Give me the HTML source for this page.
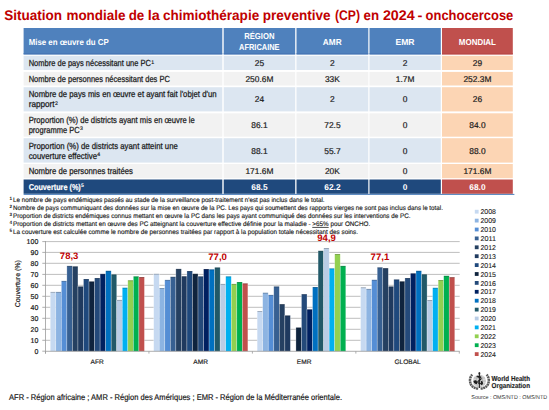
<!DOCTYPE html>
<html><head><meta charset="utf-8"><style>
html,body{margin:0;padding:0;background:#fff;width:549px;height:410px;overflow:hidden}
svg{display:block;font-family:"Liberation Sans", sans-serif;text-rendering:geometricPrecision}
</style></head><body>
<svg width="549" height="410" viewBox="0 0 549 410">
<rect width="549" height="410" fill="#fff"/>
<text x="4.3" y="19.9" font-size="14" font-weight="bold" fill="#C00000" textLength="57.8" lengthAdjust="spacingAndGlyphs">Situation</text>
<text x="66.4" y="19.9" font-size="14" font-weight="bold" fill="#C00000" textLength="59.2" lengthAdjust="spacingAndGlyphs">mondiale</text>
<text x="128.7" y="19.9" font-size="14" font-weight="bold" fill="#C00000" textLength="15.6" lengthAdjust="spacingAndGlyphs">de</text>
<text x="147.7" y="19.9" font-size="14" font-weight="bold" fill="#C00000" textLength="12.0" lengthAdjust="spacingAndGlyphs">la</text>
<text x="162.9" y="19.9" font-size="14" font-weight="bold" fill="#C00000" textLength="96.3" lengthAdjust="spacingAndGlyphs">chimiothérapie</text>
<text x="262.8" y="19.9" font-size="14" font-weight="bold" fill="#C00000" textLength="67.7" lengthAdjust="spacingAndGlyphs">preventive</text>
<text x="335.0" y="19.9" font-size="14" font-weight="bold" fill="#C00000" textLength="25.0" lengthAdjust="spacingAndGlyphs">(CP)</text>
<text x="363.5" y="19.9" font-size="14" font-weight="bold" fill="#C00000" textLength="15.5" lengthAdjust="spacingAndGlyphs">en</text>
<text x="382.9" y="19.9" font-size="14" font-weight="bold" fill="#C00000" textLength="31.8" lengthAdjust="spacingAndGlyphs">2024</text>
<text x="417.5" y="19.9" font-size="14" font-weight="bold" fill="#C00000" textLength="4.9" lengthAdjust="spacingAndGlyphs">-</text>
<text x="425.6" y="19.9" font-size="14" font-weight="bold" fill="#C00000" textLength="87.7" lengthAdjust="spacingAndGlyphs">onchocercose</text>
<rect x="23.6" y="28.0" width="198.70" height="26.40" fill="#4F81BD"/>
<rect x="223.7" y="28.0" width="71.50" height="26.40" fill="#4F81BD"/>
<rect x="296.5" y="28.0" width="71.80" height="26.40" fill="#4F81BD"/>
<rect x="369.5" y="28.0" width="71.30" height="26.40" fill="#4F81BD"/>
<rect x="442.0" y="28.0" width="70.80" height="26.40" fill="#C0504D"/>
<rect x="23.6" y="55.8" width="198.70" height="14.20" fill="#DCE6F1"/>
<rect x="223.7" y="55.8" width="71.50" height="14.20" fill="#DCE6F1"/>
<rect x="296.5" y="55.8" width="71.80" height="14.20" fill="#DCE6F1"/>
<rect x="369.5" y="55.8" width="71.30" height="14.20" fill="#DCE6F1"/>
<rect x="442.0" y="55.8" width="70.80" height="14.20" fill="#FCD5B4"/>
<rect x="23.6" y="71.9" width="198.70" height="13.60" fill="#F2F2F2"/>
<rect x="223.7" y="71.9" width="71.50" height="13.60" fill="#F2F2F2"/>
<rect x="296.5" y="71.9" width="71.80" height="13.60" fill="#F2F2F2"/>
<rect x="369.5" y="71.9" width="71.30" height="13.60" fill="#F2F2F2"/>
<rect x="442.0" y="71.9" width="70.80" height="13.60" fill="#FCD5B4"/>
<rect x="23.6" y="87.2" width="198.70" height="24.20" fill="#DCE6F1"/>
<rect x="223.7" y="87.2" width="71.50" height="24.20" fill="#DCE6F1"/>
<rect x="296.5" y="87.2" width="71.80" height="24.20" fill="#DCE6F1"/>
<rect x="369.5" y="87.2" width="71.30" height="24.20" fill="#DCE6F1"/>
<rect x="442.0" y="87.2" width="70.80" height="24.20" fill="#FCD5B4"/>
<rect x="23.6" y="113.3" width="198.70" height="23.40" fill="#F2F2F2"/>
<rect x="223.7" y="113.3" width="71.50" height="23.40" fill="#F2F2F2"/>
<rect x="296.5" y="113.3" width="71.80" height="23.40" fill="#F2F2F2"/>
<rect x="369.5" y="113.3" width="71.30" height="23.40" fill="#F2F2F2"/>
<rect x="442.0" y="113.3" width="70.80" height="23.40" fill="#FCD5B4"/>
<rect x="23.6" y="138.2" width="198.70" height="24.40" fill="#DCE6F1"/>
<rect x="223.7" y="138.2" width="71.50" height="24.40" fill="#DCE6F1"/>
<rect x="296.5" y="138.2" width="71.80" height="24.40" fill="#DCE6F1"/>
<rect x="369.5" y="138.2" width="71.30" height="24.40" fill="#DCE6F1"/>
<rect x="442.0" y="138.2" width="70.80" height="24.40" fill="#FCD5B4"/>
<rect x="23.6" y="164.0" width="198.70" height="14.20" fill="#F2F2F2"/>
<rect x="223.7" y="164.0" width="71.50" height="14.20" fill="#F2F2F2"/>
<rect x="296.5" y="164.0" width="71.80" height="14.20" fill="#F2F2F2"/>
<rect x="369.5" y="164.0" width="71.30" height="14.20" fill="#F2F2F2"/>
<rect x="442.0" y="164.0" width="70.80" height="14.20" fill="#FCD5B4"/>
<rect x="23.6" y="179.5" width="198.70" height="14.30" fill="#1F497D"/>
<rect x="223.7" y="179.5" width="71.50" height="14.30" fill="#1F497D"/>
<rect x="296.5" y="179.5" width="71.80" height="14.30" fill="#1F497D"/>
<rect x="369.5" y="179.5" width="71.30" height="14.30" fill="#1F497D"/>
<rect x="442.0" y="179.5" width="70.80" height="14.30" fill="#C0504D"/>
<rect x="23.6" y="193.9" width="490.8" height="1" fill="#4F81BD"/>
<rect x="23.6" y="53.2" width="198.70" height="1.2" fill="#4675B5"/>
<rect x="223.7" y="53.2" width="71.50" height="1.2" fill="#4675B5"/>
<rect x="296.5" y="53.2" width="71.80" height="1.2" fill="#4675B5"/>
<rect x="369.5" y="53.2" width="71.30" height="1.2" fill="#4675B5"/>
<rect x="442.0" y="53.2" width="70.80" height="1.2" fill="#B94946"/>
<text x="28.7" y="44.6" font-size="8.6" font-weight="bold" fill="#fff" textLength="80" lengthAdjust="spacingAndGlyphs">Mise en œuvre du CP</text>
<text x="259.3" y="39.1" font-size="8.6" font-weight="bold" fill="#fff" text-anchor="middle" textLength="30.3" lengthAdjust="spacingAndGlyphs">RÉGION</text>
<text x="259.3" y="49.5" font-size="8.6" font-weight="bold" fill="#fff" text-anchor="middle" textLength="40.5" lengthAdjust="spacingAndGlyphs">AFRICAINE</text>
<text x="332.2" y="44.6" font-size="8.6" font-weight="bold" fill="#fff" text-anchor="middle" textLength="18.8" lengthAdjust="spacingAndGlyphs">AMR</text>
<text x="405.0" y="44.6" font-size="8.6" font-weight="bold" fill="#fff" text-anchor="middle">EMR</text>
<text x="477.4" y="44.6" font-size="8.6" font-weight="bold" fill="#fff" text-anchor="middle" textLength="37.2" lengthAdjust="spacingAndGlyphs">MONDIAL</text>
<text x="28.7" y="66.1" font-size="8.8" fill="#1a1a1a" textLength="122.3" lengthAdjust="spacingAndGlyphs" stroke="#1a1a1a" stroke-width="0.25">Nombre de pays nécessitant une PC</text>
<text x="151.3" y="63.7" font-size="5.2" fill="#1a1a1a" stroke="#1a1a1a" stroke-width="0.15">1</text>
<text x="28.7" y="81.8" font-size="8.8" fill="#1a1a1a" textLength="141.2" lengthAdjust="spacingAndGlyphs" stroke="#1a1a1a" stroke-width="0.25">Nombre de personnes nécessitant des PC</text>
<text x="28.7" y="97.3" font-size="8.8" fill="#1a1a1a" textLength="187.9" lengthAdjust="spacingAndGlyphs" stroke="#1a1a1a" stroke-width="0.25">Nombre de pays mis en œuvre et ayant fait l'objet d'un</text>
<text x="28.7" y="106.9" font-size="8.8" fill="#1a1a1a" textLength="25.9" lengthAdjust="spacingAndGlyphs" stroke="#1a1a1a" stroke-width="0.25">rapport</text>
<text x="54.9" y="104.5" font-size="5.2" fill="#1a1a1a" stroke="#1a1a1a" stroke-width="0.15">2</text>
<text x="28.7" y="122.9" font-size="8.8" fill="#1a1a1a" textLength="166.1" lengthAdjust="spacingAndGlyphs" stroke="#1a1a1a" stroke-width="0.25">Proportion (%) de districts ayant mis en œuvre le</text>
<text x="28.7" y="132.6" font-size="8.8" fill="#1a1a1a" textLength="50.9" lengthAdjust="spacingAndGlyphs" stroke="#1a1a1a" stroke-width="0.25">programme PC</text>
<text x="79.9" y="130.2" font-size="5.2" fill="#1a1a1a" stroke="#1a1a1a" stroke-width="0.15">3</text>
<text x="28.7" y="148.7" font-size="8.8" fill="#1a1a1a" textLength="149.1" lengthAdjust="spacingAndGlyphs" stroke="#1a1a1a" stroke-width="0.25">Proportion (%) de districts ayant atteint une</text>
<text x="28.7" y="158.5" font-size="8.8" fill="#1a1a1a" textLength="68.3" lengthAdjust="spacingAndGlyphs" stroke="#1a1a1a" stroke-width="0.25">couverture effective</text>
<text x="97.3" y="156.1" font-size="5.2" fill="#1a1a1a" stroke="#1a1a1a" stroke-width="0.15">4</text>
<text x="28.7" y="174.2" font-size="8.8" fill="#1a1a1a" textLength="104.2" lengthAdjust="spacingAndGlyphs" stroke="#1a1a1a" stroke-width="0.25">Nombre de personnes traitées</text>
<text x="28.7" y="189.9" font-size="8.6" font-weight="bold" fill="#fff" textLength="52.1" lengthAdjust="spacingAndGlyphs" stroke="#fff" stroke-width="0.2">Couverture (%)</text>
<text x="80.9" y="187.0" font-size="5.2" font-weight="bold" fill="#fff">5</text>
<text x="259.4" y="66.3" font-size="8.4" fill="#1a1a1a" text-anchor="middle" stroke="#1a1a1a" stroke-width="0.2">25</text>
<text x="332.4" y="66.3" font-size="8.4" fill="#1a1a1a" text-anchor="middle" stroke="#1a1a1a" stroke-width="0.2">2</text>
<text x="405.1" y="66.3" font-size="8.4" fill="#1a1a1a" text-anchor="middle" stroke="#1a1a1a" stroke-width="0.2">2</text>
<text x="477.4" y="66.3" font-size="8.4" fill="#1a1a1a" text-anchor="middle" stroke="#1a1a1a" stroke-width="0.2">29</text>
<text x="259.4" y="81.8" font-size="8.4" fill="#1a1a1a" text-anchor="middle" stroke="#1a1a1a" stroke-width="0.2">250.6M</text>
<text x="332.4" y="81.8" font-size="8.4" fill="#1a1a1a" text-anchor="middle" stroke="#1a1a1a" stroke-width="0.2">33K</text>
<text x="405.1" y="81.8" font-size="8.4" fill="#1a1a1a" text-anchor="middle" stroke="#1a1a1a" stroke-width="0.2">1.7M</text>
<text x="477.4" y="81.8" font-size="8.4" fill="#1a1a1a" text-anchor="middle" stroke="#1a1a1a" stroke-width="0.2">252.3M</text>
<text x="259.4" y="102.4" font-size="8.4" fill="#1a1a1a" text-anchor="middle" stroke="#1a1a1a" stroke-width="0.2">24</text>
<text x="332.4" y="102.4" font-size="8.4" fill="#1a1a1a" text-anchor="middle" stroke="#1a1a1a" stroke-width="0.2">2</text>
<text x="405.1" y="102.4" font-size="8.4" fill="#1a1a1a" text-anchor="middle" stroke="#1a1a1a" stroke-width="0.2">0</text>
<text x="477.4" y="102.4" font-size="8.4" fill="#1a1a1a" text-anchor="middle" stroke="#1a1a1a" stroke-width="0.2">26</text>
<text x="259.4" y="128.0" font-size="8.4" fill="#1a1a1a" text-anchor="middle" stroke="#1a1a1a" stroke-width="0.2">86.1</text>
<text x="332.4" y="128.0" font-size="8.4" fill="#1a1a1a" text-anchor="middle" stroke="#1a1a1a" stroke-width="0.2">72.5</text>
<text x="405.1" y="128.0" font-size="8.4" fill="#1a1a1a" text-anchor="middle" stroke="#1a1a1a" stroke-width="0.2">0</text>
<text x="477.4" y="128.0" font-size="8.4" fill="#1a1a1a" text-anchor="middle" stroke="#1a1a1a" stroke-width="0.2">84.0</text>
<text x="259.4" y="153.9" font-size="8.4" fill="#1a1a1a" text-anchor="middle" stroke="#1a1a1a" stroke-width="0.2">88.1</text>
<text x="332.4" y="153.9" font-size="8.4" fill="#1a1a1a" text-anchor="middle" stroke="#1a1a1a" stroke-width="0.2">55.7</text>
<text x="405.1" y="153.9" font-size="8.4" fill="#1a1a1a" text-anchor="middle" stroke="#1a1a1a" stroke-width="0.2">0</text>
<text x="477.4" y="153.9" font-size="8.4" fill="#1a1a1a" text-anchor="middle" stroke="#1a1a1a" stroke-width="0.2">88.0</text>
<text x="259.4" y="174.4" font-size="8.4" fill="#1a1a1a" text-anchor="middle" stroke="#1a1a1a" stroke-width="0.2">171.6M</text>
<text x="332.4" y="174.4" font-size="8.4" fill="#1a1a1a" text-anchor="middle" stroke="#1a1a1a" stroke-width="0.2">20K</text>
<text x="405.1" y="174.4" font-size="8.4" fill="#1a1a1a" text-anchor="middle" stroke="#1a1a1a" stroke-width="0.2">0</text>
<text x="477.4" y="174.4" font-size="8.4" fill="#1a1a1a" text-anchor="middle" stroke="#1a1a1a" stroke-width="0.2">171.6M</text>
<text x="259.4" y="190.0" font-size="8.4" font-weight="bold" fill="#fff" text-anchor="middle">68.5</text>
<text x="332.4" y="190.0" font-size="8.4" font-weight="bold" fill="#fff" text-anchor="middle">62.2</text>
<text x="405.1" y="190.0" font-size="8.4" font-weight="bold" fill="#fff" text-anchor="middle">0</text>
<text x="477.4" y="190.0" font-size="8.4" font-weight="bold" fill="#fff" text-anchor="middle">68.0</text>
<text x="9.4" y="199.7" font-size="4.6" font-weight="bold" fill="#222">1</text>
<text x="13.0" y="201.9" font-size="6.6" fill="#1a1a1a" textLength="311.6" lengthAdjust="spacingAndGlyphs" stroke="#1a1a1a" stroke-width="0.15">Le nombre de pays endémiques passés au stade de la surveillance post-traitement n'est pas inclus dans le total.</text>
<text x="9.4" y="207.7" font-size="4.6" font-weight="bold" fill="#222">2</text>
<text x="13.0" y="209.9" font-size="6.6" fill="#1a1a1a" textLength="429.9" lengthAdjust="spacingAndGlyphs" stroke="#1a1a1a" stroke-width="0.15">Nombre de pays communiquant des données sur la mise en œuvre de la PC. Les pays qui soumettent des rapports vierges ne sont pas inclus dans le total.</text>
<text x="9.4" y="215.8" font-size="4.6" font-weight="bold" fill="#222">3</text>
<text x="13.0" y="218.0" font-size="6.6" fill="#1a1a1a" textLength="397.4" lengthAdjust="spacingAndGlyphs" stroke="#1a1a1a" stroke-width="0.15">Proportion de districts endémiques connus mettant en œuvre la PC dans les pays ayant communiqué des données sur les interventions de PC.</text>
<text x="9.4" y="223.8" font-size="4.6" font-weight="bold" fill="#222">4</text>
<text x="13.0" y="226.0" font-size="6.6" fill="#1a1a1a" textLength="357.2" lengthAdjust="spacingAndGlyphs" stroke="#1a1a1a" stroke-width="0.15">Proportion de districts mettant en œuvre des PC atteignant la couverture effective définie pour la maladie - <tspan text-decoration="underline">&gt;65%</tspan> pour ONCHO.</text>
<text x="9.4" y="232.0" font-size="4.6" font-weight="bold" fill="#222">5</text>
<text x="13.0" y="234.2" font-size="6.6" fill="#1a1a1a" textLength="345.0" lengthAdjust="spacingAndGlyphs" stroke="#1a1a1a" stroke-width="0.15">La couverture est calculée comme le nombre de personnes traitées par rapport à la population totale nécessitant des soins.</text>
<line x1="45.5" y1="340.30" x2="459.7" y2="340.30" stroke="#BFBFBF" stroke-width="1"/>
<line x1="45.5" y1="329.30" x2="459.7" y2="329.30" stroke="#BFBFBF" stroke-width="1"/>
<line x1="45.5" y1="318.30" x2="459.7" y2="318.30" stroke="#BFBFBF" stroke-width="1"/>
<line x1="45.5" y1="307.30" x2="459.7" y2="307.30" stroke="#BFBFBF" stroke-width="1"/>
<line x1="45.5" y1="296.30" x2="459.7" y2="296.30" stroke="#BFBFBF" stroke-width="1"/>
<line x1="45.5" y1="285.30" x2="459.7" y2="285.30" stroke="#BFBFBF" stroke-width="1"/>
<line x1="45.5" y1="274.40" x2="459.7" y2="274.40" stroke="#BFBFBF" stroke-width="1"/>
<line x1="45.5" y1="263.30" x2="459.7" y2="263.30" stroke="#BFBFBF" stroke-width="1"/>
<line x1="45.5" y1="252.40" x2="459.7" y2="252.40" stroke="#BFBFBF" stroke-width="1"/>
<line x1="45.5" y1="241.60" x2="459.7" y2="241.60" stroke="#BFBFBF" stroke-width="1"/>
<rect x="50.25" y="291.90" width="5.54" height="59.40" fill="#C6D9F1" stroke="#ffffff" stroke-opacity="0.45" stroke-width="0.6"/>
<rect x="50.55" y="291.90" width="4.94" height="1" fill="#000" fill-opacity="0.22"/>
<rect x="55.79" y="291.90" width="5.54" height="59.40" fill="#8DB4E2" stroke="#ffffff" stroke-opacity="0.45" stroke-width="0.6"/>
<rect x="56.09" y="291.90" width="4.94" height="1" fill="#000" fill-opacity="0.22"/>
<rect x="61.33" y="280.90" width="5.54" height="70.40" fill="#558ED5" stroke="#ffffff" stroke-opacity="0.45" stroke-width="0.6"/>
<rect x="61.63" y="280.90" width="4.94" height="1" fill="#000" fill-opacity="0.22"/>
<rect x="66.87" y="265.90" width="5.54" height="85.40" fill="#376092" stroke="#ffffff" stroke-opacity="0.45" stroke-width="0.6"/>
<rect x="67.17" y="265.90" width="4.94" height="1" fill="#000" fill-opacity="0.22"/>
<rect x="72.41" y="266.30" width="5.54" height="85.00" fill="#254061" stroke="#ffffff" stroke-opacity="0.45" stroke-width="0.6"/>
<rect x="72.71" y="266.30" width="4.94" height="1" fill="#000" fill-opacity="0.22"/>
<rect x="77.95" y="286.40" width="5.54" height="64.90" fill="#1F3A5F" stroke="#ffffff" stroke-opacity="0.45" stroke-width="0.6"/>
<rect x="78.25" y="286.40" width="4.94" height="1" fill="#000" fill-opacity="0.22"/>
<rect x="83.49" y="279.00" width="5.54" height="72.30" fill="#1F497D" stroke="#ffffff" stroke-opacity="0.45" stroke-width="0.6"/>
<rect x="83.79" y="279.00" width="4.94" height="1" fill="#000" fill-opacity="0.22"/>
<rect x="89.03" y="281.40" width="5.54" height="69.90" fill="#0F243E" stroke="#ffffff" stroke-opacity="0.45" stroke-width="0.6"/>
<rect x="89.33" y="281.40" width="4.94" height="1" fill="#000" fill-opacity="0.22"/>
<rect x="94.57" y="278.00" width="5.54" height="73.30" fill="#244A7A" stroke="#ffffff" stroke-opacity="0.45" stroke-width="0.6"/>
<rect x="94.87" y="278.00" width="4.94" height="1" fill="#000" fill-opacity="0.22"/>
<rect x="100.11" y="273.90" width="5.54" height="77.40" fill="#002060" stroke="#ffffff" stroke-opacity="0.45" stroke-width="0.6"/>
<rect x="100.41" y="273.90" width="4.94" height="1" fill="#000" fill-opacity="0.22"/>
<rect x="105.65" y="270.80" width="5.54" height="80.50" fill="#0070C0" stroke="#ffffff" stroke-opacity="0.45" stroke-width="0.6"/>
<rect x="105.95" y="270.80" width="4.94" height="1" fill="#000" fill-opacity="0.22"/>
<rect x="111.19" y="274.30" width="5.54" height="77.00" fill="#215968" stroke="#ffffff" stroke-opacity="0.45" stroke-width="0.6"/>
<rect x="111.49" y="274.30" width="4.94" height="1" fill="#000" fill-opacity="0.22"/>
<rect x="116.73" y="299.90" width="5.54" height="51.40" fill="#B9CDE5" stroke="#ffffff" stroke-opacity="0.45" stroke-width="0.6"/>
<rect x="117.03" y="299.90" width="4.94" height="1" fill="#000" fill-opacity="0.22"/>
<rect x="122.27" y="287.70" width="5.54" height="63.60" fill="#00B0F0" stroke="#ffffff" stroke-opacity="0.45" stroke-width="0.6"/>
<rect x="122.57" y="287.70" width="4.94" height="1" fill="#000" fill-opacity="0.22"/>
<rect x="127.81" y="280.20" width="5.54" height="71.10" fill="#92D050" stroke="#ffffff" stroke-opacity="0.45" stroke-width="0.6"/>
<rect x="128.11" y="280.20" width="4.94" height="1" fill="#000" fill-opacity="0.22"/>
<rect x="133.35" y="276.30" width="5.54" height="75.00" fill="#00B050" stroke="#ffffff" stroke-opacity="0.45" stroke-width="0.6"/>
<rect x="133.65" y="276.30" width="4.94" height="1" fill="#000" fill-opacity="0.22"/>
<rect x="138.89" y="277.00" width="5.54" height="74.30" fill="#C0504D" stroke="#ffffff" stroke-opacity="0.45" stroke-width="0.6"/>
<rect x="139.19" y="277.00" width="4.94" height="1" fill="#000" fill-opacity="0.22"/>
<rect x="153.70" y="273.80" width="5.54" height="77.50" fill="#C6D9F1" stroke="#ffffff" stroke-opacity="0.45" stroke-width="0.6"/>
<rect x="154.00" y="273.80" width="4.94" height="1" fill="#000" fill-opacity="0.22"/>
<rect x="159.24" y="288.00" width="5.54" height="63.30" fill="#8DB4E2" stroke="#ffffff" stroke-opacity="0.45" stroke-width="0.6"/>
<rect x="159.54" y="288.00" width="4.94" height="1" fill="#000" fill-opacity="0.22"/>
<rect x="164.78" y="279.90" width="5.54" height="71.40" fill="#558ED5" stroke="#ffffff" stroke-opacity="0.45" stroke-width="0.6"/>
<rect x="165.08" y="279.90" width="4.94" height="1" fill="#000" fill-opacity="0.22"/>
<rect x="170.32" y="276.80" width="5.54" height="74.50" fill="#376092" stroke="#ffffff" stroke-opacity="0.45" stroke-width="0.6"/>
<rect x="170.62" y="276.80" width="4.94" height="1" fill="#000" fill-opacity="0.22"/>
<rect x="175.86" y="268.90" width="5.54" height="82.40" fill="#254061" stroke="#ffffff" stroke-opacity="0.45" stroke-width="0.6"/>
<rect x="176.16" y="268.90" width="4.94" height="1" fill="#000" fill-opacity="0.22"/>
<rect x="181.40" y="276.20" width="5.54" height="75.10" fill="#1F3A5F" stroke="#ffffff" stroke-opacity="0.45" stroke-width="0.6"/>
<rect x="181.70" y="276.20" width="4.94" height="1" fill="#000" fill-opacity="0.22"/>
<rect x="186.94" y="271.00" width="5.54" height="80.30" fill="#1F497D" stroke="#ffffff" stroke-opacity="0.45" stroke-width="0.6"/>
<rect x="187.24" y="271.00" width="4.94" height="1" fill="#000" fill-opacity="0.22"/>
<rect x="192.48" y="273.80" width="5.54" height="77.50" fill="#0F243E" stroke="#ffffff" stroke-opacity="0.45" stroke-width="0.6"/>
<rect x="192.78" y="273.80" width="4.94" height="1" fill="#000" fill-opacity="0.22"/>
<rect x="198.02" y="276.30" width="5.54" height="75.00" fill="#244A7A" stroke="#ffffff" stroke-opacity="0.45" stroke-width="0.6"/>
<rect x="198.32" y="276.30" width="4.94" height="1" fill="#000" fill-opacity="0.22"/>
<rect x="203.56" y="269.00" width="5.54" height="82.30" fill="#002060" stroke="#ffffff" stroke-opacity="0.45" stroke-width="0.6"/>
<rect x="203.86" y="269.00" width="4.94" height="1" fill="#000" fill-opacity="0.22"/>
<rect x="209.10" y="269.30" width="5.54" height="82.00" fill="#0070C0" stroke="#ffffff" stroke-opacity="0.45" stroke-width="0.6"/>
<rect x="209.40" y="269.30" width="4.94" height="1" fill="#000" fill-opacity="0.22"/>
<rect x="214.64" y="267.40" width="5.54" height="83.90" fill="#215968" stroke="#ffffff" stroke-opacity="0.45" stroke-width="0.6"/>
<rect x="214.94" y="267.40" width="4.94" height="1" fill="#000" fill-opacity="0.22"/>
<rect x="220.18" y="283.90" width="5.54" height="67.40" fill="#B9CDE5" stroke="#ffffff" stroke-opacity="0.45" stroke-width="0.6"/>
<rect x="220.48" y="283.90" width="4.94" height="1" fill="#000" fill-opacity="0.22"/>
<rect x="225.72" y="276.30" width="5.54" height="75.00" fill="#00B0F0" stroke="#ffffff" stroke-opacity="0.45" stroke-width="0.6"/>
<rect x="226.02" y="276.30" width="4.94" height="1" fill="#000" fill-opacity="0.22"/>
<rect x="231.26" y="283.90" width="5.54" height="67.40" fill="#92D050" stroke="#ffffff" stroke-opacity="0.45" stroke-width="0.6"/>
<rect x="231.56" y="283.90" width="4.94" height="1" fill="#000" fill-opacity="0.22"/>
<rect x="236.80" y="282.00" width="5.54" height="69.30" fill="#00B050" stroke="#ffffff" stroke-opacity="0.45" stroke-width="0.6"/>
<rect x="237.10" y="282.00" width="4.94" height="1" fill="#000" fill-opacity="0.22"/>
<rect x="242.34" y="283.30" width="5.54" height="68.00" fill="#C0504D" stroke="#ffffff" stroke-opacity="0.45" stroke-width="0.6"/>
<rect x="242.64" y="283.30" width="4.94" height="1" fill="#000" fill-opacity="0.22"/>
<rect x="257.15" y="311.00" width="5.54" height="40.30" fill="#C6D9F1" stroke="#ffffff" stroke-opacity="0.45" stroke-width="0.6"/>
<rect x="257.45" y="311.00" width="4.94" height="1" fill="#000" fill-opacity="0.22"/>
<rect x="262.69" y="292.70" width="5.54" height="58.60" fill="#8DB4E2" stroke="#ffffff" stroke-opacity="0.45" stroke-width="0.6"/>
<rect x="262.99" y="292.70" width="4.94" height="1" fill="#000" fill-opacity="0.22"/>
<rect x="268.23" y="294.90" width="5.54" height="56.40" fill="#558ED5" stroke="#ffffff" stroke-opacity="0.45" stroke-width="0.6"/>
<rect x="268.53" y="294.90" width="4.94" height="1" fill="#000" fill-opacity="0.22"/>
<rect x="273.77" y="286.40" width="5.54" height="64.90" fill="#376092" stroke="#ffffff" stroke-opacity="0.45" stroke-width="0.6"/>
<rect x="274.07" y="286.40" width="4.94" height="1" fill="#000" fill-opacity="0.22"/>
<rect x="279.31" y="304.10" width="5.54" height="47.20" fill="#254061" stroke="#ffffff" stroke-opacity="0.45" stroke-width="0.6"/>
<rect x="279.61" y="304.10" width="4.94" height="1" fill="#000" fill-opacity="0.22"/>
<rect x="284.85" y="315.40" width="5.54" height="35.90" fill="#1F3A5F" stroke="#ffffff" stroke-opacity="0.45" stroke-width="0.6"/>
<rect x="285.15" y="315.40" width="4.94" height="1" fill="#000" fill-opacity="0.22"/>
<rect x="295.93" y="327.50" width="5.54" height="23.80" fill="#0F243E" stroke="#ffffff" stroke-opacity="0.45" stroke-width="0.6"/>
<rect x="296.23" y="327.50" width="4.94" height="1" fill="#000" fill-opacity="0.22"/>
<rect x="301.47" y="294.10" width="5.54" height="57.20" fill="#244A7A" stroke="#ffffff" stroke-opacity="0.45" stroke-width="0.6"/>
<rect x="301.77" y="294.10" width="4.94" height="1" fill="#000" fill-opacity="0.22"/>
<rect x="307.01" y="309.30" width="5.54" height="42.00" fill="#002060" stroke="#ffffff" stroke-opacity="0.45" stroke-width="0.6"/>
<rect x="307.31" y="309.30" width="4.94" height="1" fill="#000" fill-opacity="0.22"/>
<rect x="312.55" y="287.00" width="5.54" height="64.30" fill="#0070C0" stroke="#ffffff" stroke-opacity="0.45" stroke-width="0.6"/>
<rect x="312.85" y="287.00" width="4.94" height="1" fill="#000" fill-opacity="0.22"/>
<rect x="318.09" y="250.80" width="5.54" height="100.50" fill="#215968" stroke="#ffffff" stroke-opacity="0.45" stroke-width="0.6"/>
<rect x="318.39" y="250.80" width="4.94" height="1" fill="#000" fill-opacity="0.22"/>
<rect x="323.63" y="248.00" width="5.54" height="103.30" fill="#B9CDE5" stroke="#ffffff" stroke-opacity="0.45" stroke-width="0.6"/>
<rect x="323.93" y="248.00" width="4.94" height="1" fill="#000" fill-opacity="0.22"/>
<rect x="329.17" y="268.30" width="5.54" height="83.00" fill="#00B0F0" stroke="#ffffff" stroke-opacity="0.45" stroke-width="0.6"/>
<rect x="329.47" y="268.30" width="4.94" height="1" fill="#000" fill-opacity="0.22"/>
<rect x="334.71" y="254.00" width="5.54" height="97.30" fill="#92D050" stroke="#ffffff" stroke-opacity="0.45" stroke-width="0.6"/>
<rect x="335.01" y="254.00" width="4.94" height="1" fill="#000" fill-opacity="0.22"/>
<rect x="340.25" y="265.90" width="5.54" height="85.40" fill="#00B050" stroke="#ffffff" stroke-opacity="0.45" stroke-width="0.6"/>
<rect x="340.55" y="265.90" width="4.94" height="1" fill="#000" fill-opacity="0.22"/>
<rect x="360.60" y="287.20" width="5.54" height="64.10" fill="#C6D9F1" stroke="#ffffff" stroke-opacity="0.45" stroke-width="0.6"/>
<rect x="360.90" y="287.20" width="4.94" height="1" fill="#000" fill-opacity="0.22"/>
<rect x="366.14" y="288.90" width="5.54" height="62.40" fill="#8DB4E2" stroke="#ffffff" stroke-opacity="0.45" stroke-width="0.6"/>
<rect x="366.44" y="288.90" width="4.94" height="1" fill="#000" fill-opacity="0.22"/>
<rect x="371.68" y="279.80" width="5.54" height="71.50" fill="#558ED5" stroke="#ffffff" stroke-opacity="0.45" stroke-width="0.6"/>
<rect x="371.98" y="279.80" width="4.94" height="1" fill="#000" fill-opacity="0.22"/>
<rect x="377.22" y="267.30" width="5.54" height="84.00" fill="#376092" stroke="#ffffff" stroke-opacity="0.45" stroke-width="0.6"/>
<rect x="377.52" y="267.30" width="4.94" height="1" fill="#000" fill-opacity="0.22"/>
<rect x="382.76" y="268.10" width="5.54" height="83.20" fill="#254061" stroke="#ffffff" stroke-opacity="0.45" stroke-width="0.6"/>
<rect x="383.06" y="268.10" width="4.94" height="1" fill="#000" fill-opacity="0.22"/>
<rect x="388.30" y="286.40" width="5.54" height="64.90" fill="#1F3A5F" stroke="#ffffff" stroke-opacity="0.45" stroke-width="0.6"/>
<rect x="388.60" y="286.40" width="4.94" height="1" fill="#000" fill-opacity="0.22"/>
<rect x="393.84" y="279.40" width="5.54" height="71.90" fill="#1F497D" stroke="#ffffff" stroke-opacity="0.45" stroke-width="0.6"/>
<rect x="394.14" y="279.40" width="4.94" height="1" fill="#000" fill-opacity="0.22"/>
<rect x="399.38" y="281.30" width="5.54" height="70.00" fill="#0F243E" stroke="#ffffff" stroke-opacity="0.45" stroke-width="0.6"/>
<rect x="399.68" y="281.30" width="4.94" height="1" fill="#000" fill-opacity="0.22"/>
<rect x="404.92" y="278.00" width="5.54" height="73.30" fill="#244A7A" stroke="#ffffff" stroke-opacity="0.45" stroke-width="0.6"/>
<rect x="405.22" y="278.00" width="4.94" height="1" fill="#000" fill-opacity="0.22"/>
<rect x="410.46" y="273.30" width="5.54" height="78.00" fill="#002060" stroke="#ffffff" stroke-opacity="0.45" stroke-width="0.6"/>
<rect x="410.76" y="273.30" width="4.94" height="1" fill="#000" fill-opacity="0.22"/>
<rect x="416.00" y="270.80" width="5.54" height="80.50" fill="#0070C0" stroke="#ffffff" stroke-opacity="0.45" stroke-width="0.6"/>
<rect x="416.30" y="270.80" width="4.94" height="1" fill="#000" fill-opacity="0.22"/>
<rect x="421.54" y="274.20" width="5.54" height="77.10" fill="#215968" stroke="#ffffff" stroke-opacity="0.45" stroke-width="0.6"/>
<rect x="421.84" y="274.20" width="4.94" height="1" fill="#000" fill-opacity="0.22"/>
<rect x="427.08" y="300.00" width="5.54" height="51.30" fill="#B9CDE5" stroke="#ffffff" stroke-opacity="0.45" stroke-width="0.6"/>
<rect x="427.38" y="300.00" width="4.94" height="1" fill="#000" fill-opacity="0.22"/>
<rect x="432.62" y="287.80" width="5.54" height="63.50" fill="#00B0F0" stroke="#ffffff" stroke-opacity="0.45" stroke-width="0.6"/>
<rect x="432.92" y="287.80" width="4.94" height="1" fill="#000" fill-opacity="0.22"/>
<rect x="438.16" y="280.00" width="5.54" height="71.30" fill="#92D050" stroke="#ffffff" stroke-opacity="0.45" stroke-width="0.6"/>
<rect x="438.46" y="280.00" width="4.94" height="1" fill="#000" fill-opacity="0.22"/>
<rect x="443.70" y="275.80" width="5.54" height="75.50" fill="#00B050" stroke="#ffffff" stroke-opacity="0.45" stroke-width="0.6"/>
<rect x="444.00" y="275.80" width="4.94" height="1" fill="#000" fill-opacity="0.22"/>
<rect x="449.24" y="277.10" width="5.54" height="74.20" fill="#C0504D" stroke="#ffffff" stroke-opacity="0.45" stroke-width="0.6"/>
<rect x="449.54" y="277.10" width="4.94" height="1" fill="#000" fill-opacity="0.22"/>
<line x1="45.5" y1="241" x2="45.5" y2="353.6" stroke="#9a9a9a" stroke-width="0.8"/>
<line x1="45.5" y1="351.3" x2="459.7" y2="351.3" stroke="#9a9a9a" stroke-width="0.8"/>
<line x1="42.3" y1="351.20" x2="45.5" y2="351.20" stroke="#9a9a9a" stroke-width="0.8"/>
<text x="38.3" y="353.70" font-size="7" fill="#1a1a1a" text-anchor="end" stroke="#1a1a1a" stroke-width="0.2">0</text>
<line x1="42.3" y1="340.30" x2="45.5" y2="340.30" stroke="#9a9a9a" stroke-width="0.8"/>
<text x="38.3" y="342.80" font-size="7" fill="#1a1a1a" text-anchor="end" stroke="#1a1a1a" stroke-width="0.2">10</text>
<line x1="42.3" y1="329.30" x2="45.5" y2="329.30" stroke="#9a9a9a" stroke-width="0.8"/>
<text x="38.3" y="331.80" font-size="7" fill="#1a1a1a" text-anchor="end" stroke="#1a1a1a" stroke-width="0.2">20</text>
<line x1="42.3" y1="318.30" x2="45.5" y2="318.30" stroke="#9a9a9a" stroke-width="0.8"/>
<text x="38.3" y="320.80" font-size="7" fill="#1a1a1a" text-anchor="end" stroke="#1a1a1a" stroke-width="0.2">30</text>
<line x1="42.3" y1="307.30" x2="45.5" y2="307.30" stroke="#9a9a9a" stroke-width="0.8"/>
<text x="38.3" y="309.80" font-size="7" fill="#1a1a1a" text-anchor="end" stroke="#1a1a1a" stroke-width="0.2">40</text>
<line x1="42.3" y1="296.30" x2="45.5" y2="296.30" stroke="#9a9a9a" stroke-width="0.8"/>
<text x="38.3" y="298.80" font-size="7" fill="#1a1a1a" text-anchor="end" stroke="#1a1a1a" stroke-width="0.2">50</text>
<line x1="42.3" y1="285.30" x2="45.5" y2="285.30" stroke="#9a9a9a" stroke-width="0.8"/>
<text x="38.3" y="287.80" font-size="7" fill="#1a1a1a" text-anchor="end" stroke="#1a1a1a" stroke-width="0.2">60</text>
<line x1="42.3" y1="274.40" x2="45.5" y2="274.40" stroke="#9a9a9a" stroke-width="0.8"/>
<text x="38.3" y="276.90" font-size="7" fill="#1a1a1a" text-anchor="end" stroke="#1a1a1a" stroke-width="0.2">70</text>
<line x1="42.3" y1="263.30" x2="45.5" y2="263.30" stroke="#9a9a9a" stroke-width="0.8"/>
<text x="38.3" y="265.80" font-size="7" fill="#1a1a1a" text-anchor="end" stroke="#1a1a1a" stroke-width="0.2">80</text>
<line x1="42.3" y1="252.40" x2="45.5" y2="252.40" stroke="#9a9a9a" stroke-width="0.8"/>
<text x="38.3" y="254.90" font-size="7" fill="#1a1a1a" text-anchor="end" stroke="#1a1a1a" stroke-width="0.2">90</text>
<line x1="42.3" y1="241.60" x2="45.5" y2="241.60" stroke="#9a9a9a" stroke-width="0.8"/>
<text x="38.3" y="244.10" font-size="7" fill="#1a1a1a" text-anchor="end" stroke="#1a1a1a" stroke-width="0.2">100</text>
<line x1="45.50" y1="351.3" x2="45.50" y2="353.6" stroke="#9a9a9a" stroke-width="0.8"/>
<line x1="148.95" y1="351.3" x2="148.95" y2="353.6" stroke="#9a9a9a" stroke-width="0.8"/>
<line x1="252.40" y1="351.3" x2="252.40" y2="353.6" stroke="#9a9a9a" stroke-width="0.8"/>
<line x1="355.85" y1="351.3" x2="355.85" y2="353.6" stroke="#9a9a9a" stroke-width="0.8"/>
<line x1="459.30" y1="351.3" x2="459.30" y2="353.6" stroke="#9a9a9a" stroke-width="0.8"/>
<text x="97.2" y="364" font-size="6.6" fill="#1a1a1a" text-anchor="middle" stroke="#1a1a1a" stroke-width="0.15">AFR</text>
<text x="200.7" y="364" font-size="6.6" fill="#1a1a1a" text-anchor="middle" stroke="#1a1a1a" stroke-width="0.15">AMR</text>
<text x="304.1" y="364" font-size="6.6" fill="#1a1a1a" text-anchor="middle" stroke="#1a1a1a" stroke-width="0.15">EMR</text>
<text x="407.6" y="364" font-size="6.6" fill="#1a1a1a" text-anchor="middle" stroke="#1a1a1a" stroke-width="0.15">GLOBAL</text>
<text transform="translate(20.3,283.8) rotate(-90)" font-size="7" fill="#1a1a1a" stroke="#1a1a1a" stroke-width="0.2" text-anchor="middle" textLength="47" lengthAdjust="spacingAndGlyphs">Couverture (%)</text>
<text x="69.1" y="258.9" font-size="9.3" font-weight="bold" fill="#C00000" text-anchor="middle" textLength="18.5" lengthAdjust="spacingAndGlyphs">78,3</text>
<text x="217.6" y="260.4" font-size="9.3" font-weight="bold" fill="#C00000" text-anchor="middle" textLength="18.8" lengthAdjust="spacingAndGlyphs">77,0</text>
<text x="326.6" y="240.9" font-size="9.3" font-weight="bold" fill="#C00000" text-anchor="middle" textLength="18.6" lengthAdjust="spacingAndGlyphs">94,9</text>
<text x="379.9" y="260.2" font-size="9.3" font-weight="bold" fill="#C00000" text-anchor="middle" textLength="18.7" lengthAdjust="spacingAndGlyphs">77,1</text>
<rect x="474.8" y="209.80" width="3.8" height="3.8" fill="#C6D9F1"/>
<text x="480.5" y="214.30" font-size="7.0" fill="#1a1a1a" textLength="15.5" lengthAdjust="spacingAndGlyphs" stroke="#1a1a1a" stroke-width="0.1">2008</text>
<rect x="474.8" y="218.70" width="3.8" height="3.8" fill="#8DB4E2"/>
<text x="480.5" y="223.20" font-size="7.0" fill="#1a1a1a" textLength="15.5" lengthAdjust="spacingAndGlyphs" stroke="#1a1a1a" stroke-width="0.1">2009</text>
<rect x="474.8" y="227.60" width="3.8" height="3.8" fill="#558ED5"/>
<text x="480.5" y="232.10" font-size="7.0" fill="#1a1a1a" textLength="15.5" lengthAdjust="spacingAndGlyphs" stroke="#1a1a1a" stroke-width="0.1">2010</text>
<rect x="474.8" y="236.50" width="3.8" height="3.8" fill="#376092"/>
<text x="480.5" y="241.00" font-size="7.0" fill="#1a1a1a" textLength="15.5" lengthAdjust="spacingAndGlyphs" stroke="#1a1a1a" stroke-width="0.1">2011</text>
<rect x="474.8" y="245.40" width="3.8" height="3.8" fill="#254061"/>
<text x="480.5" y="249.90" font-size="7.0" fill="#1a1a1a" textLength="15.5" lengthAdjust="spacingAndGlyphs" stroke="#1a1a1a" stroke-width="0.1">2012</text>
<rect x="474.8" y="254.30" width="3.8" height="3.8" fill="#1F3A5F"/>
<text x="480.5" y="258.80" font-size="7.0" fill="#1a1a1a" textLength="15.5" lengthAdjust="spacingAndGlyphs" stroke="#1a1a1a" stroke-width="0.1">2013</text>
<rect x="474.8" y="263.20" width="3.8" height="3.8" fill="#1F497D"/>
<text x="480.5" y="267.70" font-size="7.0" fill="#1a1a1a" textLength="15.5" lengthAdjust="spacingAndGlyphs" stroke="#1a1a1a" stroke-width="0.1">2014</text>
<rect x="474.8" y="272.10" width="3.8" height="3.8" fill="#0F243E"/>
<text x="480.5" y="276.60" font-size="7.0" fill="#1a1a1a" textLength="15.5" lengthAdjust="spacingAndGlyphs" stroke="#1a1a1a" stroke-width="0.1">2015</text>
<rect x="474.8" y="281.00" width="3.8" height="3.8" fill="#244A7A"/>
<text x="480.5" y="285.50" font-size="7.0" fill="#1a1a1a" textLength="15.5" lengthAdjust="spacingAndGlyphs" stroke="#1a1a1a" stroke-width="0.1">2016</text>
<rect x="474.8" y="289.90" width="3.8" height="3.8" fill="#002060"/>
<text x="480.5" y="294.40" font-size="7.0" fill="#1a1a1a" textLength="15.5" lengthAdjust="spacingAndGlyphs" stroke="#1a1a1a" stroke-width="0.1">2017</text>
<rect x="474.8" y="298.80" width="3.8" height="3.8" fill="#0070C0"/>
<text x="480.5" y="303.30" font-size="7.0" fill="#1a1a1a" textLength="15.5" lengthAdjust="spacingAndGlyphs" stroke="#1a1a1a" stroke-width="0.1">2018</text>
<rect x="474.8" y="307.70" width="3.8" height="3.8" fill="#215968"/>
<text x="480.5" y="312.20" font-size="7.0" fill="#1a1a1a" textLength="15.5" lengthAdjust="spacingAndGlyphs" stroke="#1a1a1a" stroke-width="0.1">2019</text>
<rect x="474.8" y="316.60" width="3.8" height="3.8" fill="#B9CDE5"/>
<text x="480.5" y="321.10" font-size="7.0" fill="#1a1a1a" textLength="15.5" lengthAdjust="spacingAndGlyphs" stroke="#1a1a1a" stroke-width="0.1">2020</text>
<rect x="474.8" y="325.50" width="3.8" height="3.8" fill="#00B0F0"/>
<text x="480.5" y="330.00" font-size="7.0" fill="#1a1a1a" textLength="15.5" lengthAdjust="spacingAndGlyphs" stroke="#1a1a1a" stroke-width="0.1">2021</text>
<rect x="474.8" y="334.40" width="3.8" height="3.8" fill="#92D050"/>
<text x="480.5" y="338.90" font-size="7.0" fill="#1a1a1a" textLength="15.5" lengthAdjust="spacingAndGlyphs" stroke="#1a1a1a" stroke-width="0.1">2022</text>
<rect x="474.8" y="343.30" width="3.8" height="3.8" fill="#00B050"/>
<text x="480.5" y="347.80" font-size="7.0" fill="#1a1a1a" textLength="15.5" lengthAdjust="spacingAndGlyphs" stroke="#1a1a1a" stroke-width="0.1">2023</text>
<rect x="474.8" y="352.20" width="3.8" height="3.8" fill="#C0504D"/>
<text x="480.5" y="356.70" font-size="7.0" fill="#1a1a1a" textLength="15.5" lengthAdjust="spacingAndGlyphs" stroke="#1a1a1a" stroke-width="0.1">2024</text>
<text x="9.0" y="399.9" font-size="8.4" fill="#1a1a1a" textLength="333" lengthAdjust="spacingAndGlyphs" stroke="#1a1a1a" stroke-width="0.2">AFR - Région africaine ; AMR - Région des Amériques ; EMR - Région de la Méditerranée orientale.</text>
<g transform="translate(479.4,381)">
<path d="M -1.2 7.6 Q -9.6 6.8 -9.4 -1.2 Q -9.1 -4.4 -7.2 -6.4" fill="none" stroke="#5c5c5c" stroke-width="2.5" stroke-dasharray="2 0.5"/>
<path d="M 1.2 7.6 Q 9.6 6.8 9.4 -1.2 Q 9.1 -4.4 7.2 -6.4" fill="none" stroke="#5c5c5c" stroke-width="2.5" stroke-dasharray="2 0.5"/>
<circle r="6.6" fill="#d8d8d8"/>
<ellipse rx="3.2" ry="6.4" fill="none" stroke="#9a9a9a" stroke-width="0.5"/>
<path d="M -6.4 0 H 6.4 M -5.6 -3 H 5.6 M -5.6 3 H 5.6" stroke="#9a9a9a" stroke-width="0.5"/>
<path d="M -6 0.5 Q -4.5 -1.5 -3 -0.5 Q -1.5 1 -2.5 3 Q -4 3.5 -5.5 1.5 Z" fill="#1e1e1e"/>
<path d="M 1.5 0 Q 4 -0.5 3.5 2.5 Q 3 4.5 1.8 4 Q 1 2 1.5 0 Z" fill="#1e1e1e"/>
<path d="M -3.5 -4.5 Q -1 -5.5 2 -4.5 Q 1 -3 -1 -3.2 Z" fill="#2a2a2a"/>
<line x1="0" y1="-8.6" x2="0" y2="7" stroke="#2a2a2a" stroke-width="1.1"/>
<circle cx="0" cy="-7.8" r="1" fill="#222"/>
<path d="M -2.2 -4.8 Q 2.4 -3.8 1.6 -2 Q 0 -0.5 -1.6 0.6 Q -2 2.2 1.6 2.8" fill="none" stroke="#1e1e1e" stroke-width="1.1"/>
</g>
<text x="491.6" y="381.0" font-size="7.2" font-weight="bold" fill="#222" textLength="38.4" lengthAdjust="spacingAndGlyphs" stroke="#222" stroke-width="0.15">World Health</text>
<text x="491.6" y="387.6" font-size="7.2" font-weight="bold" fill="#222" textLength="38.4" lengthAdjust="spacingAndGlyphs" stroke="#222" stroke-width="0.15">Organization</text>
<text x="471.3" y="398.9" font-size="5.6" fill="#333" textLength="75.9" lengthAdjust="spacingAndGlyphs">Source : OMS/NTD : OMS/NTD</text>
</svg>
</body></html>
